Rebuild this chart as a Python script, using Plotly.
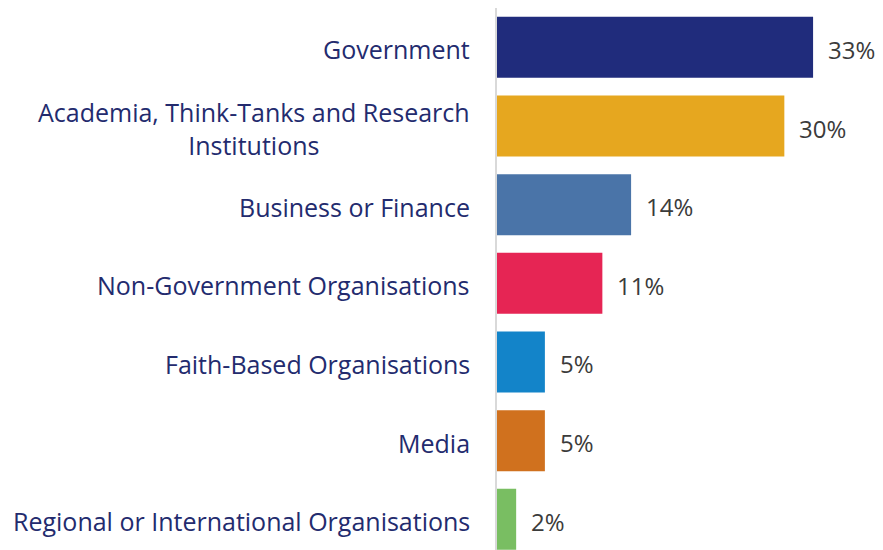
import plotly.graph_objects as go

categories = [
    "Government",
    "Academia, Think-Tanks and Research<br>Institutions",
    "Business or Finance",
    "Non-Government Organisations",
    "Faith-Based Organisations",
    "Media",
    "Regional or International Organisations",
]
values = [33, 30, 14, 11, 5, 5, 2]
colors = ["#202C7C", "#E6A71F", "#4A74A8", "#E62554", "#1384C9", "#D0711E", "#79BE62"]

label_font = "Open Sans, Noto Sans, sans-serif"

fig = go.Figure()

fig.add_trace(go.Bar(
    x=values,
    y=list(range(len(categories))),
    orientation="h",
    marker=dict(color=colors, line=dict(width=0)),
    hoverinfo="skip",
))

# value labels to the right of each bar
for i, v in enumerate(values):
    fig.add_annotation(
        x=v, y=i, xref="x", yref="y",
        text=f"{v}%", showarrow=False,
        xanchor="left", xshift=13, yshift=-2,
        font=dict(family=label_font, size=24, color="#3B3B3B"),
    )

# category labels, centred lines, right-anchored at the axis
for i, c in enumerate(categories):
    fig.add_annotation(
        x=0, y=i, xref="paper", yref="y",
        text=c, showarrow=False,
        xanchor="right", xshift=-25, yshift=-2, align="center",
        font=dict(family=label_font, size=25, color="#232B6E"),
    )

# page body has an 8px margin, so the figure sits at (8, 8)
fig.update_layout(
    width=875,
    height=542,
    margin=dict(l=489, r=0, t=0, b=0),
    plot_bgcolor="white",
    paper_bgcolor="white",
    bargap=0.225,
    showlegend=False,
    xaxis=dict(range=[0, 40.3], visible=False, fixedrange=True),
    yaxis=dict(
        range=[6.39, -0.5],
        showticklabels=False,
        showgrid=False,
        zeroline=False,
        showline=True,
        linecolor="#D9D9D9",
        linewidth=2,
        ticks="",
    ),
)

fig.write_html("out.html")
